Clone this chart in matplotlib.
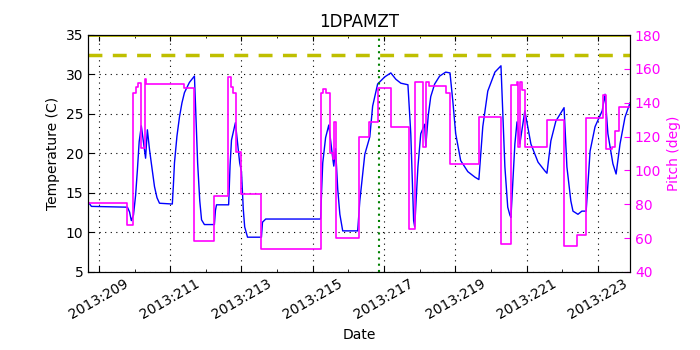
import numpy as np
import matplotlib
matplotlib.use("Agg")
import matplotlib.pyplot as plt
from matplotlib.ticker import FixedLocator, MultipleLocator, FuncFormatter

# day of year 2013 / temperature (C)
temp_day = [208.68, 208.79, 209.80, 209.86, 209.91, 209.97, 210.03, 210.08, 210.13, 210.19,
            210.31, 210.36, 210.42, 210.47, 210.56, 210.63, 210.70, 211.06, 211.09, 211.12,
            211.19, 211.26, 211.33, 211.40, 211.54, 211.68, 211.72, 211.77, 211.83, 211.88,
            211.96, 212.24, 212.27, 212.30, 212.64, 212.68, 212.72, 212.83, 212.95, 213.00,
            213.05, 213.09, 213.17, 213.56, 213.59, 213.68, 215.22, 215.25, 215.28, 215.36,
            215.45, 215.56, 215.59, 215.64, 215.70, 215.76, 215.84, 216.26, 216.32, 216.46,
            216.60, 216.68, 216.82, 217.02, 217.19, 217.33, 217.47, 217.67, 217.75, 217.83,
            217.86, 217.95, 218.03, 218.14, 218.17, 218.24, 218.31, 218.42, 218.56, 218.73,
            218.85, 218.93, 219.01, 219.15, 219.35, 219.55, 219.66, 219.77, 219.91, 220.11,
            220.28, 220.39, 220.47, 220.53, 220.56, 220.67, 220.73, 220.81, 220.95, 221.12,
            221.32, 221.51, 221.57, 221.68, 221.82, 222.05, 222.13, 222.24, 222.30, 222.44,
            222.55, 222.67, 222.78, 222.92, 223.12, 223.20, 223.28, 223.42, 223.51, 223.62,
            223.76, 223.90]
temp_val = [14.0, 13.3, 13.2, 12.6, 11.5, 12.2, 14.7, 17.9, 21.5, 23.5,
            19.4, 23.0, 20.5, 18.8, 15.8, 14.4, 13.7, 13.6, 16.0, 18.8,
            22.2, 24.6, 26.4, 27.7, 29.0, 29.8, 25.0, 18.8, 14.0, 11.6,
            11.0, 11.0, 12.8, 13.5, 13.5, 18.5, 21.7, 23.9, 18.8, 17.7,
            13.0, 10.7, 9.4, 9.4, 11.3, 11.7, 11.7, 15.5, 18.8, 22.0,
            23.6, 19.4, 18.4, 20.6, 15.5, 12.3, 10.2, 10.2, 14.0, 19.9,
            22.1, 26.0, 28.8, 29.7, 30.2, 29.4, 28.9, 28.7, 22.5, 11.5,
            10.7, 18.3, 22.5, 23.7, 20.9, 24.8, 27.2, 28.8, 29.8, 30.3,
            30.2, 26.6, 22.5, 19.1, 17.7, 17.0, 16.7, 23.4, 27.9, 30.3,
            31.1, 18.3, 13.2, 12.2, 11.9, 21.2, 24.0, 21.2, 25.4, 21.2,
            18.9, 17.8, 17.5, 21.6, 24.1, 25.8, 18.3, 14.0, 12.7, 12.3,
            12.7, 12.7, 20.3, 23.4, 25.4, 27.5, 22.5, 18.7, 17.4, 21.2,
            24.6, 26.4]

# day of year 2013 / pitch (deg), step changes
pitch_day = [208.68, 209.80, 209.97, 210.05, 210.11, 210.19, 210.28, 210.31, 211.40, 211.68,
             212.24, 212.63, 212.70, 212.75, 212.85, 213.00, 213.56, 215.22, 215.30, 215.36,
             215.47, 215.56, 215.59, 215.66, 216.29, 216.57, 216.82, 217.19, 217.69, 217.86,
             218.09, 218.17, 218.26, 218.73, 218.85, 219.66, 220.28, 220.56, 220.73, 220.77,
             220.81, 220.88, 220.95, 221.57, 222.05, 222.41, 222.67, 223.14, 223.23, 223.40,
             223.48, 223.59, 223.90]
pitch_val = [81, 68, 146, 149, 151.5, 113, 154, 151, 148.7, 58.5,
             85, 155, 149.3, 146, 111, 86, 53.5, 146, 148, 146,
             110, 107, 128.5, 60, 120, 128.5, 148.7, 125.5, 65.4, 152,
             114, 152, 150, 146, 104, 131.5, 56.5, 150.5, 152, 114,
             152, 147.5, 114, 130, 55.4, 62, 131, 144.6, 112.7, 114,
             123, 137.5, 137.5]

tick_days = [209, 211, 213, 215, 217, 219, 221, 223]
planning_limit = 32.5
now_day = 216.85

fig = plt.figure(figsize=(7, 3.5), dpi=100)
ax = fig.add_axes([0.126, 0.223, 0.774, 0.677])

ax.plot(temp_day, temp_val, color='b', lw=1)
ax.axhline(planning_limit, color='y', ls='--', lw=2.5, dashes=(4, 3))
ax.axhline(35, color='y', lw=2)
ax.axvline(now_day, color='g', ls=(0, (1, 2)), lw=1.5)

ax.set_xlim(208.70, 223.90)
ax.set_ylim(5, 35)
ax.set_title('1DPAMZT', fontsize=12)
ax.set_ylabel('Temperature (C)', fontsize=10)
ax.set_xlabel('Date', fontsize=10)
ax.xaxis.set_major_locator(FixedLocator(tick_days))
ax.xaxis.set_minor_locator(MultipleLocator(1))
ax.xaxis.set_major_formatter(FuncFormatter(lambda v, p: '2013:%03d' % int(round(v))))
ax.grid(True, which='major', color='k', ls=(0, (1, 4)), lw=0.8)
ax.tick_params(which='both', direction='in', top=True, labelsize=10)
ax.tick_params(which='major', length=4)
ax.tick_params(which='minor', length=2)
for lbl in ax.get_xticklabels():
    lbl.set_rotation(30)
    lbl.set_ha('center')

ax2 = ax.twinx()
ax2.step(pitch_day, pitch_val, where='post', color='magenta', lw=1.2)
ax2.set_ylim(40, 180)
ax2.set_xlim(208.70, 223.90)
ax2.set_ylabel('Pitch (deg)', color='magenta', fontsize=10)
ax2.tick_params(axis='y', direction='in', colors='magenta', labelsize=10, length=4)
ax2.spines['right'].set_color('k')

fig.savefig('out.png', dpi=100)
